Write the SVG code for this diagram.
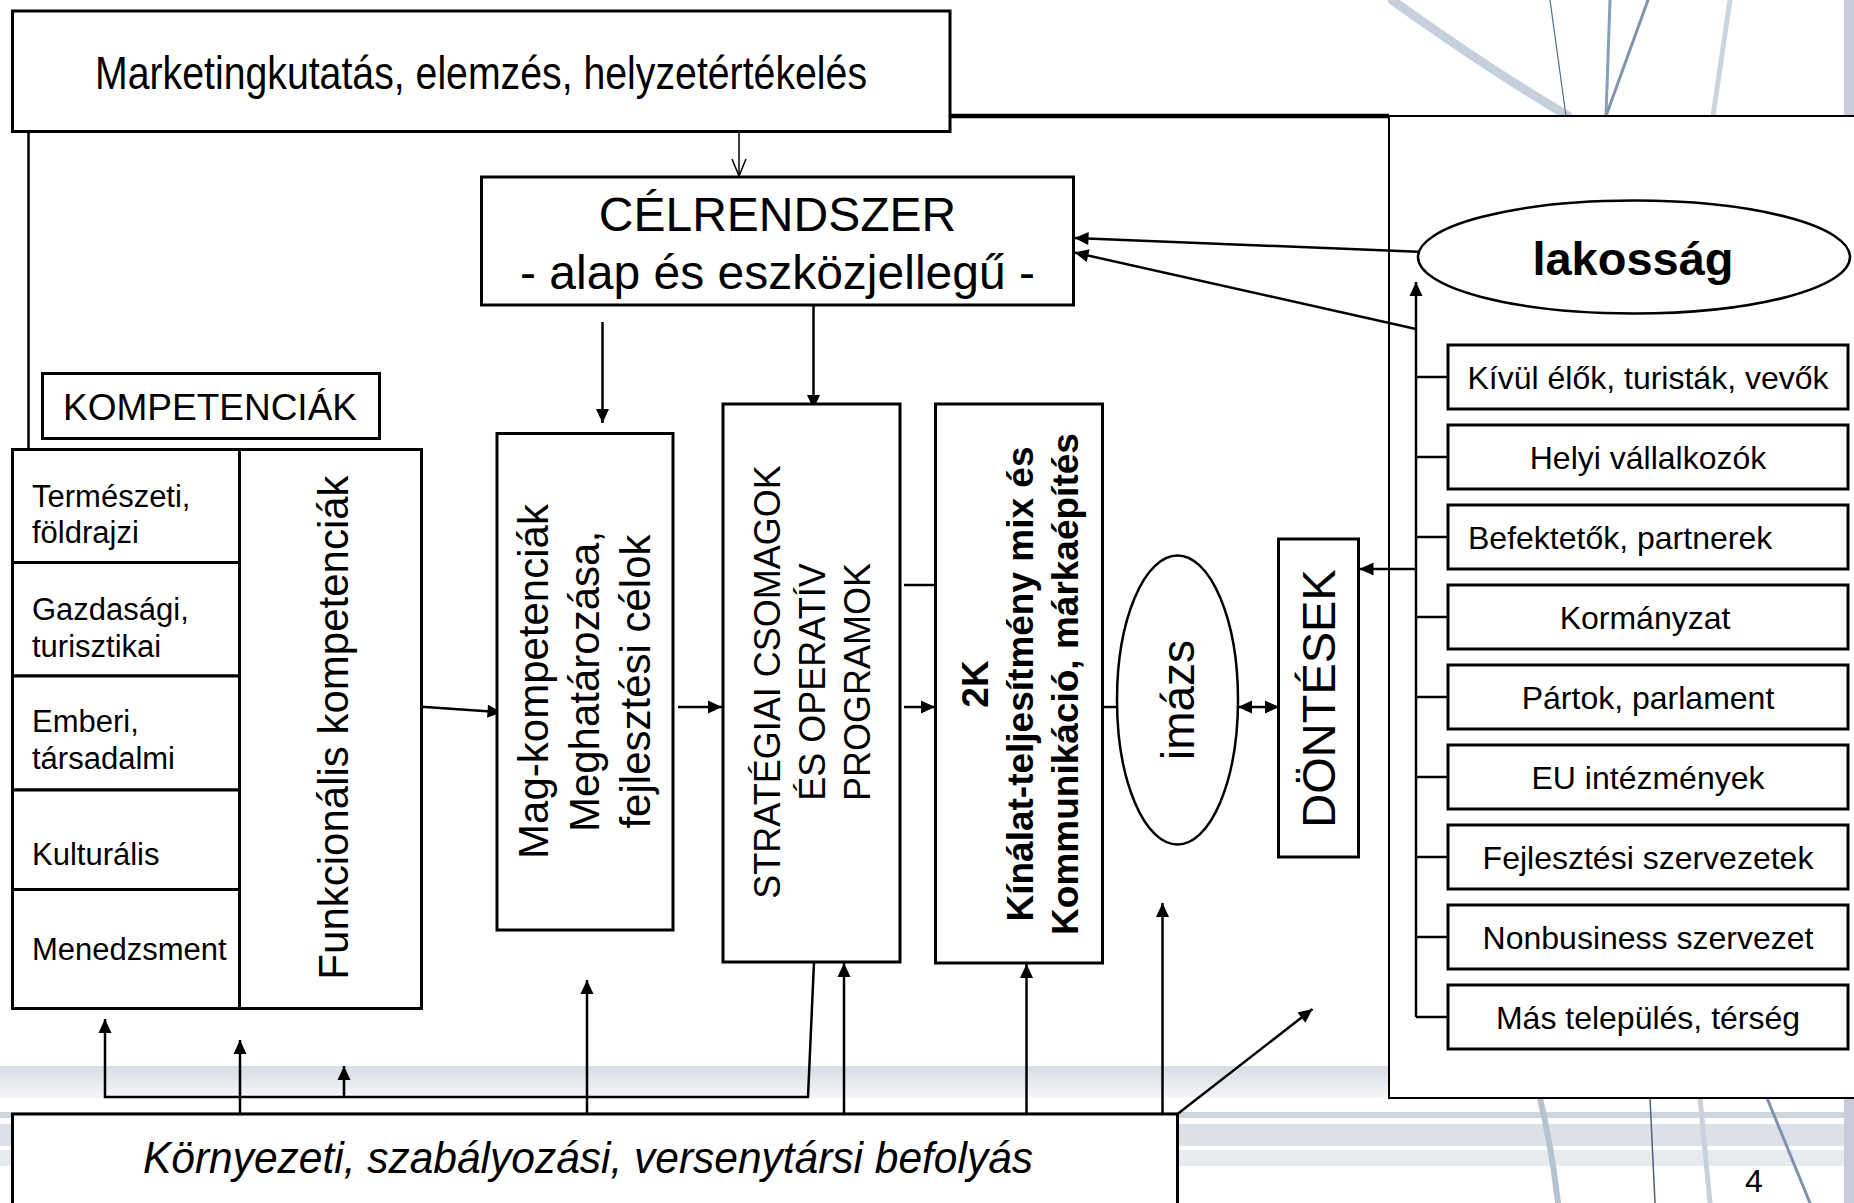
<svg xmlns="http://www.w3.org/2000/svg" width="1854" height="1203" viewBox="0 0 1854 1203">
<defs>
<style>
.box{fill:#fff;stroke:#000;stroke-width:3}
.thin{fill:#fff;stroke:#000;stroke-width:2}
.ell{fill:#fff;stroke:#000;stroke-width:2.5}
.t{font-family:"Liberation Sans",Arial,Helvetica,sans-serif;fill:#000}
.m{text-anchor:middle}
.c{fill:none;stroke:#000;stroke-width:2.5}
.ca{fill:none;stroke:#000;stroke-width:2.5;marker-end:url(#ah)}
.bg{fill:none;stroke-linecap:round}
</style>
<marker id="ah" markerUnits="userSpaceOnUse" markerWidth="16" markerHeight="14" refX="14" refY="6.5" orient="auto" overflow="visible"><path d="M0,0 L14,6.5 L0,13 z" fill="#000"/></marker>
<marker id="ahs" markerUnits="userSpaceOnUse" markerWidth="16" markerHeight="14" refX="14" refY="6.5" orient="auto-start-reverse" overflow="visible"><path d="M0,0 L14,6.5 L0,13 z" fill="#000"/></marker>
<marker id="open" markerUnits="userSpaceOnUse" markerWidth="20" markerHeight="16" refX="18" refY="7" orient="auto" overflow="visible"><path d="M1,0 L18,7 L1,14" fill="none" stroke="#000" stroke-width="1.5"/></marker>
<linearGradient id="band1" x1="0" y1="0" x2="0" y2="1"><stop offset="0" stop-color="#d8dde4"/><stop offset="1" stop-color="#f5f6f8"/></linearGradient>
</defs>

<g id="background">
<rect x="0" y="1066" width="1854" height="32" fill="url(#band1)"/>
<rect x="0" y="1112" width="1854" height="6" fill="#cfd5dd"/>
<rect x="0" y="1124" width="1854" height="22" fill="#dce1e7"/>
<rect x="0" y="1150" width="1854" height="16" fill="#e7eaee"/>
<rect x="1844" y="0" width="10" height="1203" fill="#c9ccd8"/>
<path class="bg" d="M1392,0 Q1490,70 1568,116" stroke="#c6d0dc" stroke-width="9"/>
<path class="bg" d="M1550,0 L1566,116" stroke="#5a6a80" stroke-width="1.2"/>
<path class="bg" d="M1610,0 L1606,116" stroke="#8a9fb8" stroke-width="3"/>
<path class="bg" d="M1648,0 L1606,116" stroke="#7f95b0" stroke-width="3"/>
<path class="bg" d="M1730,0 L1713,116" stroke="#cdd4de" stroke-width="5"/>
<path class="bg" d="M1540,1098 Q1552,1150 1558,1203" stroke="#b7c2cf" stroke-width="6"/>
<path class="bg" d="M1650,1098 L1655,1203" stroke="#50607a" stroke-width="1.5"/>
<path class="bg" d="M1700,1098 L1710,1203" stroke="#c9d1dc" stroke-width="5"/>
<path class="bg" d="M1767,1098 L1810,1203" stroke="#7f93ab" stroke-width="3"/>
</g>

<g id="panel-szereplok"><rect class="thin" x="1389" y="116" width="470" height="982"/></g>

<g id="connectors">
<path d="M950,116 H1389" fill="none" stroke="#000" stroke-width="4.5"/>
<path class="c" d="M28.5,131.5 V449.5"/>
<path d="M739,131.5 V176" fill="none" stroke="#000" stroke-width="1.5" marker-end="url(#open)"/>
<path class="ca" d="M602.5,322 V423"/>
<path class="ca" d="M813.5,298 V409"/>
<path class="ca" d="M1418,251.7 L1074.5,238"/>
<path class="ca" d="M1416,329 L1074.5,252.5"/>
<path class="ca" d="M1416,1017 V282"/>
<path class="c" d="M1416,377 H1448 M1416,457 H1448 M1416,537 H1448 M1416,617 H1448 M1416,697 H1448 M1416,777 H1448 M1416,857 H1448 M1416,937 H1448 M1416,1017 H1448"/>
<path class="ca" d="M1416,569 H1359.5"/>
<path class="ca" d="M421.5,706.7 L501.5,712.3"/>
<path class="ca" d="M678,707 H722"/>
<path class="ca" d="M904,707 H935"/>
<path class="c" d="M904,585 H935.5"/>
<path class="ca" d="M1102.5,707 H1132"/>
<path d="M1238,707 H1279" fill="none" stroke="#000" stroke-width="2.5" marker-start="url(#ahs)" marker-end="url(#ahs)"/>
<path class="ca" d="M814,962 L808,1097 H105 V1019"/>
<path class="ca" d="M344,1097 V1066"/>
<path class="ca" d="M240,1114 V1040"/>
<path class="ca" d="M587,1114 V980"/>
<path class="ca" d="M844,1114 V963"/>
<path class="ca" d="M1026.5,1114 V964"/>
<path class="ca" d="M1162.5,1114 V903"/>
<path class="ca" d="M1177.5,1114 L1312.5,1009"/>
</g>

<g id="marketingkutatas">
<rect class="box" x="12.5" y="11" width="937.5" height="120.5"/>
<text class="t m" x="481" y="89" font-size="46" textLength="772" lengthAdjust="spacingAndGlyphs">Marketingkutatás, elemzés, helyzetértékelés</text>
</g>

<g id="celrendszer">
<rect class="box" x="481.5" y="177" width="592" height="128"/>
<text class="t m" x="777.5" y="231" font-size="48">CÉLRENDSZER</text>
<text class="t m" x="777.5" y="289" font-size="48">- alap és eszközjellegű -</text>
</g>

<g id="lakossag">
<ellipse class="ell" cx="1634" cy="257" rx="216" ry="56.5"/>
<text class="t m" x="1633" y="275" font-size="47" font-weight="bold">lakosság</text>
</g>

<g id="kompetenciak-cim">
<rect class="box" x="42.5" y="373.5" width="337" height="65"/>
<text class="t m" x="210" y="420" font-size="37">KOMPETENCIÁK</text>
</g>

<g id="kompetencia-tabla">
<g id="termeszeti"><rect class="box" x="12.5" y="449.5" width="227" height="113"/>
<text class="t" x="32" y="506.7" font-size="31">Természeti,</text><text class="t" x="32" y="543" font-size="31">földrajzi</text></g>
<g id="gazdasagi"><rect class="box" x="12.5" y="562.5" width="227" height="113.5"/>
<text class="t" x="32" y="620" font-size="31">Gazdasági,</text><text class="t" x="32" y="656.7" font-size="31">turisztikai</text></g>
<g id="emberi"><rect class="box" x="12.5" y="676" width="227" height="114"/>
<text class="t" x="32" y="731.7" font-size="31">Emberi,</text><text class="t" x="32" y="768.5" font-size="31">társadalmi</text></g>
<g id="kulturalis"><rect class="box" x="12.5" y="790" width="227" height="99.5"/>
<text class="t" x="32" y="865" font-size="31">Kulturális</text></g>
<g id="menedzsment"><rect class="box" x="12.5" y="889.5" width="227" height="119"/>
<text class="t" x="32" y="960" font-size="31">Menedzsment</text></g>
<g id="funkcionalis"><rect class="box" x="239.5" y="449.5" width="182" height="559"/>
<text class="t m" transform="translate(348,727.5) rotate(-90)" font-size="42">Funkcionális kompetenciák</text></g>
</g>

<g id="mag-kompetenciak">
<rect class="box" x="497" y="433.5" width="176" height="496.5"/>
<text class="t m" transform="translate(548,681.5) rotate(-90)" font-size="42">Mag-kompetenciák</text>
<text class="t m" transform="translate(599,681.5) rotate(-90)" font-size="42">Meghatározása,</text>
<text class="t m" transform="translate(650,681.5) rotate(-90)" font-size="42">fejlesztési célok</text>
</g>

<g id="strategiai-csomagok">
<rect class="box" x="723" y="404" width="177" height="558"/>
<text class="t m" transform="translate(780,682) rotate(-90)" font-size="36">STRATÉGIAI CSOMAGOK</text>
<text class="t m" transform="translate(825,682) rotate(-90)" font-size="36">ÉS OPERATÍV</text>
<text class="t m" transform="translate(870,682) rotate(-90)" font-size="36">PROGRAMOK</text>
</g>

<g id="kinalat-2k">
<rect class="box" x="935.5" y="404" width="167" height="559"/>
<text class="t m" transform="translate(988,684) rotate(-90)" font-size="37" font-weight="bold">2K</text>
<text class="t m" transform="translate(1033,684) rotate(-90)" font-size="37" font-weight="bold">Kínálat-teljesítmény mix és</text>
<text class="t m" transform="translate(1078,684) rotate(-90)" font-size="37" font-weight="bold">Kommunikáció, márkaépítés</text>
</g>

<g id="imazs">
<ellipse class="ell" cx="1177.5" cy="700" rx="60.5" ry="144.5"/>
<text class="t m" transform="translate(1194,700) rotate(-90)" font-size="46">imázs</text>
</g>

<g id="dontesek">
<rect class="box" x="1278.5" y="539" width="80" height="318"/>
<text class="t m" transform="translate(1335,698.5) rotate(-90)" font-size="47">DÖNTÉSEK</text>
</g>

<g id="kivul-elok"><rect class="box" x="1448" y="345" width="400" height="64"/><text class="t m" x="1648" y="389" font-size="32">Kívül élők, turisták, vevők</text></g>
<g id="helyi-vallalkozok"><rect class="box" x="1448" y="425" width="400" height="64"/><text class="t m" x="1648" y="469" font-size="32">Helyi vállalkozók</text></g>
<g id="befektetok"><rect class="box" x="1448" y="505" width="400" height="64"/><text class="t" x="1468" y="549" font-size="32">Befektetők, partnerek</text></g>
<g id="kormanyzat"><rect class="box" x="1448" y="585" width="400" height="64"/><text class="t m" x="1645" y="629" font-size="32">Kormányzat</text></g>
<g id="partok"><rect class="box" x="1448" y="665" width="400" height="64"/><text class="t m" x="1648" y="709" font-size="32">Pártok, parlament</text></g>
<g id="eu-intezmenyek"><rect class="box" x="1448" y="745" width="400" height="64"/><text class="t m" x="1648" y="789" font-size="32">EU intézmények</text></g>
<g id="fejlesztesi-szervezetek"><rect class="box" x="1448" y="825" width="400" height="64"/><text class="t m" x="1648" y="869" font-size="32">Fejlesztési szervezetek</text></g>
<g id="nonbusiness"><rect class="box" x="1448" y="905" width="400" height="64"/><text class="t m" x="1648" y="949" font-size="32">Nonbusiness szervezet</text></g>
<g id="mas-telepules"><rect class="box" x="1448" y="985" width="400" height="64"/><text class="t m" x="1648" y="1029" font-size="32">Más település, térség</text></g>

<g id="kornyezeti-befolyas">
<rect class="box" x="12.5" y="1114" width="1165" height="100"/>
<text class="t" x="143" y="1173" font-size="45" font-style="italic" textLength="890" lengthAdjust="spacingAndGlyphs">Környezeti, szabályozási, versenytársi befolyás</text>
</g>

<g id="oldalszam"><text class="t m" x="1754" y="1192" font-size="32">4</text></g>
</svg>
